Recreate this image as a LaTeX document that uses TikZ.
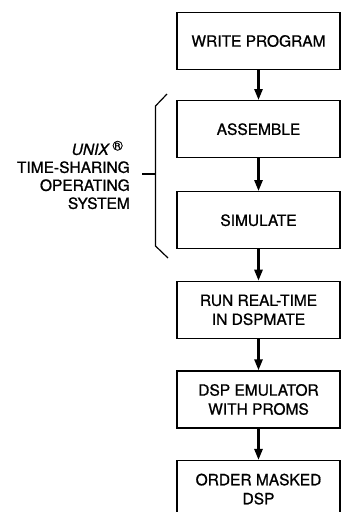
\documentclass[tikz,border=0pt]{standalone}
\usepackage{fontspec}
\setmainfont{TeX Gyre Heros}[FakeBold=0.9]
\usetikzlibrary{positioning,arrows.meta}

\begin{document}
\begin{tikzpicture}[x=1pt,y=1pt,
    box/.style={draw,line width=1.3pt,minimum width=163pt,minimum height=57pt,
      align=center,font=\fontsize{15.5}{19}\selectfont},
    >={Triangle[length=11pt,width=8pt]}]
      \useasboundingbox (0,0) rectangle (341,-512);
      \node[box] at (258.5,-41) (1) {WRITE PROGRAM};
      \node[box,below of=1,yshift=-2.1cm] (2) {ASSEMBLE};
      \node[box,below of=2,yshift=-2.2cm] (3) {SIMULATE};
      \node[box,below of=3,yshift=-2.15cm] (4) {RUN REAL-TIME\\IN DSPMATE};
      \node[box,below of=4,yshift=-2.15cm] (5) {DSP EMULATOR\\WITH PROMS};
      \node[box,below of=5,yshift=-2.15cm] (6) {ORDER MASKED\\DSP};
      %% Vertical arrows
      \draw[->,line width=2.5pt] (1) -- (2);
      \draw[->,line width=2.5pt] (2) -- (3);
      \draw[->,line width=2.5pt] (3) -- (4);
      \draw[->,line width=2.5pt] (4) -- (5);
      \draw[->,line width=2.5pt] (5) -- (6);
      %% brace for the time-sharing part
      \draw[line width=1.2pt] (167,-94) -- (155.5,-106) -- (155.5,-246) -- (168,-258);
      \coordinate (b) at (155.5,-174);
      \node[anchor=east,inner sep=0pt,align=right,font=\fontsize{15.5}{18}\selectfont]
        at (130,-175) (7) {\textit{UNIX}\,\raisebox{4.5pt}{\fontsize{14}{14}\selectfont\textregistered}\rule{7pt}{0pt}\\
        TIME-SHARING\\OPERATING\\SYSTEM};
      \draw[line width=1.2pt] (b) -- ++(-13.5,0);
    \end{tikzpicture}
\end{document}
